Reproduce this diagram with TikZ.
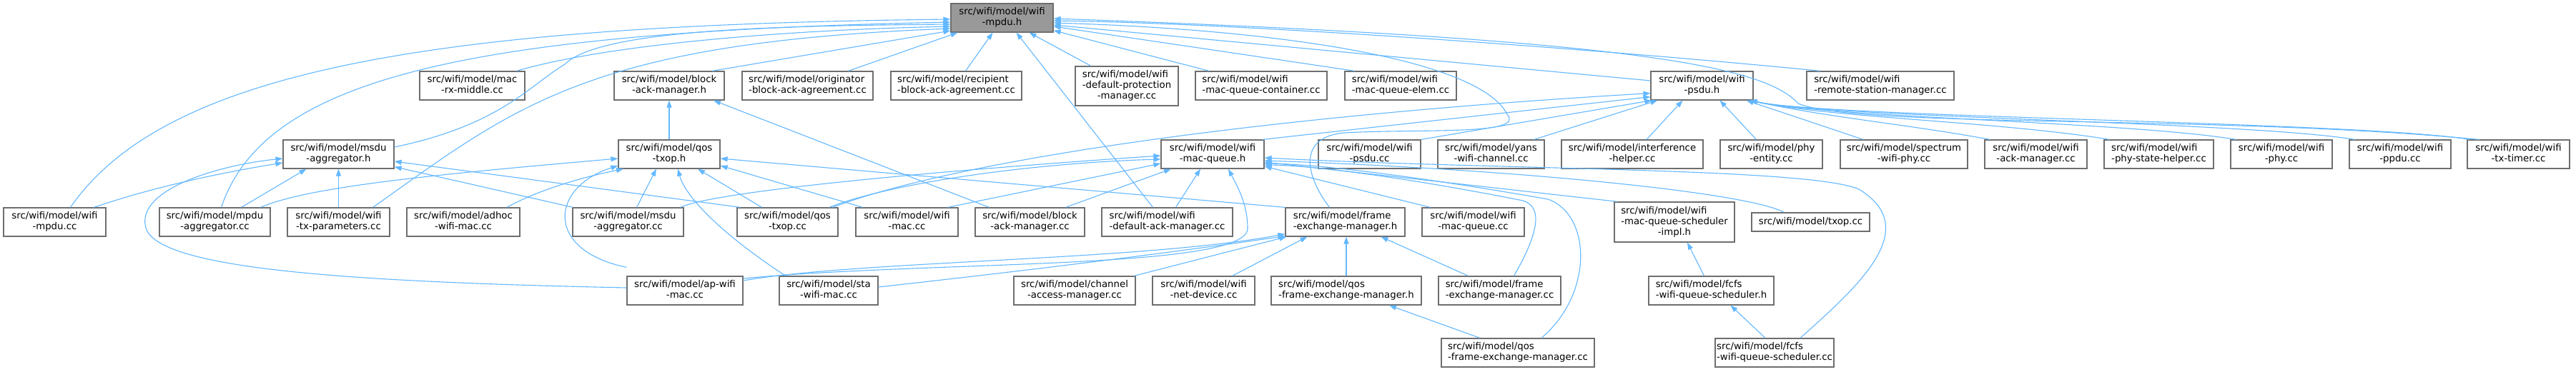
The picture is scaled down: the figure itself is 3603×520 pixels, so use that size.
\documentclass[tikz,border=0pt]{standalone}
\usepackage{fontspec}
\newfontfamily\djv{DejaVu Sans}
\usetikzlibrary{arrows.meta}
\definecolor{edgeblue}{HTML}{63B8FF}
\definecolor{boxline}{HTML}{6E6E6E}
\definecolor{rootfill}{HTML}{999999}
\newlength\lwa \newlength\lwb \newlength\lwc
\newcommand\twol[2]{\settowidth\lwa{#1}\settowidth\lwb{#2}\ifdim\lwb>\lwa\lwa=\lwb\fi
  \begin{tabular}{@{}l@{}}\makebox[\lwa][l]{#1}\\\makebox[\lwa][c]{#2}\end{tabular}}
\newcommand\threel[3]{\settowidth\lwa{#1}\settowidth\lwb{#2}\settowidth\lwc{#3}\ifdim\lwb>\lwa\lwa=\lwb\fi\ifdim\lwc>\lwa\lwa=\lwc\fi
  \begin{tabular}{@{}l@{}}\makebox[\lwa][l]{#1}\\\makebox[\lwa][l]{#2}\\\makebox[\lwa][c]{#3}\end{tabular}}
\tikzset{
  box/.style={draw=boxline, fill=white, line width=1.2pt, inner sep=0pt, minimum height=40pt,
    font=\djv\fontsize{13.3}{15}\selectfont},
  rootbox/.style={box, fill=rootfill},
  edge/.style={draw=edgeblue, line width=1.1pt, -{Triangle[length=10pt,width=7pt]}},
}
\begin{document}
\begin{tikzpicture}[x=1pt,y=-1pt]
\fill[white] (0,0) rectangle (3603,520);
\useasboundingbox (0,0) rectangle (3603,520);
% row 0
\node[rootbox, minimum width=143pt] (R) at (1401.5,25) {\twol{src/wifi/model/wifi}{-mpdu.h}};
% row 1
\node[box, minimum width=147pt] (macrx) at (660.5,120) {\twol{src/wifi/model/mac}{-rx-middle.cc}};
\node[box, minimum width=154pt] (bamh) at (936,120) {\twol{src/wifi/model/block}{-ack-manager.h}};
\node[box, minimum width=183pt] (orig) at (1129.5,120) {\twol{src/wifi/model/originator}{-block-ack-agreement.cc}};
\node[box, minimum width=183pt] (recip) at (1337.5,120) {\twol{src/wifi/model/recipient}{-block-ack-agreement.cc}};
\node[box, minimum width=144pt, minimum height=55pt] (defprot) at (1576,120.5) {\threel{src/wifi/model/wifi}{-default-protection}{-manager.cc}};
\node[box, minimum width=184pt] (mqcont) at (1764,120) {\twol{src/wifi/model/wifi}{-mac-queue-container.cc}};
\node[box, minimum width=156pt] (mqelem) at (1959,120) {\twol{src/wifi/model/wifi}{-mac-queue-elem.cc}};
\node[box, minimum width=143pt] (psduh) at (2380.5,120) {\twol{src/wifi/model/wifi}{-psdu.h}};
\node[box, minimum width=206pt] (rsm) at (2630,120) {\twol{src/wifi/model/wifi}{-remote-station-manager.cc}};
% row 2
\node[box, minimum width=155pt] (msduh) at (473.5,216) {\twol{src/wifi/model/msdu}{-aggregator.h}};
\node[box, minimum width=142pt] (qostxoph) at (936,216) {\twol{src/wifi/model/qos}{-txop.h}};
\node[box, minimum width=144pt] (mqh) at (1696,216) {\twol{src/wifi/model/wifi}{-mac-queue.h}};
\node[box, minimum width=143pt] (psducc) at (1915.5,216) {\twol{src/wifi/model/wifi}{-psdu.cc}};
\node[box, minimum width=149pt] (yans) at (2085.5,216) {\twol{src/wifi/model/yans}{-wifi-channel.cc}};
\node[box, minimum width=198pt] (interf) at (2283,216) {\twol{src/wifi/model/interference}{-helper.cc}};
\node[box, minimum width=143pt] (phyent) at (2477.5,216) {\twol{src/wifi/model/phy}{-entity.cc}};
\node[box, minimum width=178pt] (spectrum) at (2663,216) {\twol{src/wifi/model/spectrum}{-wifi-phy.cc}};
\node[box, minimum width=143pt] (ackmgr) at (2847.5,216) {\twol{src/wifi/model/wifi}{-ack-manager.cc}};
\node[box, minimum width=153pt] (physt) at (3019.5,216) {\twol{src/wifi/model/wifi}{-phy-state-helper.cc}};
\node[box, minimum width=142pt] (wifiphy) at (3191,216) {\twol{src/wifi/model/wifi}{-phy.cc}};
\node[box, minimum width=142pt] (ppdu) at (3357,216) {\twol{src/wifi/model/wifi}{-ppdu.cc}};
\node[box, minimum width=143pt] (txtimer) at (3522.5,216) {\twol{src/wifi/model/wifi}{-tx-timer.cc}};
% row 3
\node[box, minimum width=143pt] (mpducc) at (76.5,311) {\twol{src/wifi/model/wifi}{-mpdu.cc}};
\node[box, minimum width=155pt] (mpduagg) at (300.5,311) {\twol{src/wifi/model/mpdu}{-aggregator.cc}};
\node[box, minimum width=143pt] (txparams) at (473.5,311) {\twol{src/wifi/model/wifi}{-tx-parameters.cc}};
\node[box, minimum width=158pt] (adhoc) at (648,311) {\twol{src/wifi/model/adhoc}{-wifi-mac.cc}};
\node[box, minimum width=155pt] (msduagg) at (878.5,311) {\twol{src/wifi/model/msdu}{-aggregator.cc}};
\node[box, minimum width=141pt] (qostxopcc) at (1101.5,311) {\twol{src/wifi/model/qos}{-txop.cc}};
\node[box, minimum width=143pt] (wifimac) at (1268.5,311) {\twol{src/wifi/model/wifi}{-mac.cc}};
\node[box, minimum width=153pt] (bamcc) at (1440.5,311) {\twol{src/wifi/model/block}{-ack-manager.cc}};
\node[box, minimum width=183pt] (defack) at (1632.5,311) {\twol{src/wifi/model/wifi}{-default-ack-manager.cc}};
\node[box, minimum width=167pt] (femh) at (1881.5,311) {\twol{src/wifi/model/frame}{-exchange-manager.h}};
\node[box, minimum width=143pt] (mqcc) at (2060.5,311) {\twol{src/wifi/model/wifi}{-mac-queue.cc}};
\node[box, minimum width=168pt, minimum height=56pt] (mqsch) at (2342,311) {\threel{src/wifi/model/wifi}{-mac-queue-scheduler}{-impl.h}};
\node[box, minimum width=165pt, minimum height=26pt] (txopcc) at (2532.5,311) {src/wifi/model/txop.cc};
% row 4
\node[box, minimum width=162pt] (apmac) at (958,407) {\twol{src/wifi/model/ap-wifi}{-mac.cc}};
\node[box, minimum width=138pt] (stamac) at (1159,407) {\twol{src/wifi/model/sta}{-wifi-mac.cc}};
\node[box, minimum width=170pt] (cam) at (1503,407) {\twol{src/wifi/model/channel}{-access-manager.cc}};
\node[box, minimum width=143pt] (netdev) at (1683.5,407) {\twol{src/wifi/model/wifi}{-net-device.cc}};
\node[box, minimum width=210pt] (qosfemh) at (1883,407) {\twol{src/wifi/model/qos}{-frame-exchange-manager.h}};
\node[box, minimum width=171pt] (femcc) at (2097.5,407) {\twol{src/wifi/model/frame}{-exchange-manager.cc}};
\node[box, minimum width=175pt] (fcfsh) at (2393.5,407) {\twol{src/wifi/model/fcfs}{-wifi-queue-scheduler.h}};
% row 5
\node[box, minimum width=214pt] (qosfemcc) at (2123,494) {\twol{src/wifi/model/qos}{-frame-exchange-manager.cc}};
\node[box, minimum width=166pt] (fcfscc) at (2482,494) {\twol{src/wifi/model/fcfs}{-wifi-queue-scheduler.cc}};

% ---- edges into root, left side
\draw[edge] ([xshift=22]mpducc.north) .. controls (230,100) and (600,35) .. ([yshift=-2]R.west);
\draw[edge] ([xshift=9]mpduagg.north) .. controls (370,110) and (650,45) .. ([yshift=-6]R.west);
\draw[edge] ([yshift=10]msduh.east) .. controls (700,175) and (740,120) .. (790,90) .. controls (840,40) and (1100,36) .. ([yshift=-9]R.west);
\draw[edge] ([xshift=62]macrx.north) .. controls (850,62) and (1100,42) .. ([yshift=-12]R.west);
\draw[edge] ([xshift=48]txparams.north) .. controls (720,150) and (820,60) .. ([yshift=-15]R.west);
\draw[edge] ([xshift=60]bamh.north) -- ([yshift=-18]R.west);
% bottom
\draw[edge] ([xshift=57]orig.north) -- ([xshift=-62]R.south);
\draw[edge] ([xshift=13]recip.north) -- ([xshift=-13]R.south);
\draw[edge] ([xshift=-20]defack.north) -- ([xshift=20]R.south);
\draw[edge] ([xshift=-50]defprot.north) -- ([xshift=38]R.south);
\draw[edge] ([xshift=-73]mqcont.north) -- ([yshift=3]R.south east);
% right
\draw[edge] ([xshift=-64]mqelem.north) -- ([yshift=-12]R.east);
\draw[edge] ([yshift=7]psduh.west) -- ([yshift=-10]R.east);
\draw[edge] ([xshift=-84]rsm.north) .. controls (2250,70) and (1750,33) .. ([yshift=-4]R.east);
\draw[edge] ([xshift=-22]femh.north) .. controls (1825,245) and (1815,192) .. (1880,186) .. controls (1990,180) and (2135,190) .. (2108,160) .. controls (2070,85) and (1800,42) .. ([yshift=-7]R.east);
\draw[edge] ([xshift=-55]txtimer.north) .. controls (3100,160) and (2600,180) .. (2515,145) .. controls (2470,95) and (2300,55) .. ([yshift=-1]R.east);

% ---- block-ack-manager.h
\draw[edge] (qostxoph.north) -- (bamh.south);
\draw[edge] ([xshift=-57]bamcc.north) -- ([xshift=62]bamh.south);

% ---- msdu-aggregator.h
\draw[edge] ([xshift=55]mpducc.north) .. controls (220,260) and (320,240) .. ([yshift=-12]msduh.west);
\draw[edge] ([yshift=4]apmac.west) .. controls (500,395) and (230,378) .. (205,322) .. controls (185,268) and (300,232) .. ([yshift=-6]msduh.west);
\draw[edge] ([xshift=37]mpduagg.north) -- ([xshift=-45]msduh.south);
\draw[edge] (txparams.north) -- (msduh.south);
\draw[edge] ([xshift=-77]msduagg.north) -- ([yshift=3]msduh.south east);
\draw[edge] ([xshift=-66]qostxopcc.north) -- ([yshift=-10]msduh.east);

% ---- qos-txop.h
\draw[edge] ([xshift=64]mpduagg.north) .. controls (430,262) and (600,245) .. ([yshift=-6]qostxoph.west);
\draw[edge] ([yshift=12]apmac.north west) .. controls (760,350) and (770,262) .. ([yshift=-16]qostxoph.west);
\draw[edge] ([xshift=61]adhoc.north) .. controls (760,262) and (830,245) .. ([xshift=-64]qostxoph.south);
\draw[edge] ([xshift=12]msduagg.north) -- ([xshift=-18]qostxoph.south);
\draw[edge] ([xshift=-36]qostxopcc.north) -- ([xshift=40]qostxoph.south);
\draw[edge] ([xshift=-62]wifimac.north) -- ([yshift=-16]qostxoph.east);
\draw[edge] ([xshift=-60]stamac.north) .. controls (1020,335) and (960,280) .. ([xshift=12]qostxoph.south);
\draw[edge] (femh.north west) -- ([yshift=-6]qostxoph.east);

% ---- wifi-mac-queue.h
\draw[edge] ([xshift=-5]msduagg.north east) .. controls (1000,268) and (1300,240) .. ([yshift=-2]mqh.west);
\draw[edge] ([xshift=-13]qostxopcc.north east) .. controls (1250,255) and (1450,228) .. ([yshift=-7]mqh.west);
\draw[edge] ([xshift=-15]wifimac.north east) -- ([yshift=-13]mqh.west);
\draw[edge] ([xshift=50]bamcc.north) -- ([xshift=-58]mqh.south);
\draw[edge] ([xshift=12]defack.north) -- ([xshift=-17]mqh.south);
\draw[edge] ([yshift=17]apmac.east) .. controls (1300,365) and (1745,378) .. (1745,320) .. controls (1745,285) and (1730,260) .. ([xshift=22]mqh.south);
\draw[edge] ([xshift=-60]mqcc.north) -- ([yshift=-17]mqh.east);
\draw[edge] ([xshift=20]femcc.north) .. controls (2150,330) and (2160,290) .. (2130,281) .. controls (2000,255) and (1850,232) .. ([yshift=-15]mqh.east);
\draw[edge] ([xshift=33]qosfemcc.north) .. controls (2230,410) and (2225,300) .. (2165,279) .. controls (2000,250) and (1850,230) .. ([yshift=-13]mqh.east);
\draw[edge] ([xshift=5]mqsch.north west) -- ([yshift=-11]mqh.east);
\draw[edge] ([xshift=-37]txopcc.north) .. controls (2440,268) and (2100,236) .. ([yshift=-9]mqh.east);
\draw[edge] ([xshift=36]fcfscc.north) .. controls (2600,400) and (2690,320) .. (2600,265) .. controls (2530,235) and (2100,238) .. ([yshift=-5]mqh.east);

% ---- wifi-psdu.h
\draw[edge] ([xshift=-8]qostxopcc.north east) .. controls (1350,220) and (1800,160) .. ([yshift=10]psduh.south west);
\draw[edge] ([xshift=-3]mqh.north east) -- ([yshift=5]psduh.south west);
\draw[edge] (psducc.north east) -- ([xshift=2]psduh.south west);
\draw[edge] ([xshift=60]yans.north) -- ([xshift=10]psduh.south west);
\draw[edge] ([xshift=20]interf.north) -- ([xshift=-27]psduh.south);
\draw[edge] ([xshift=-21]phyent.north) -- ([xshift=25]psduh.south);
\draw[edge] ([xshift=-57]spectrum.north) -- ([xshift=-10]psduh.south east);
\draw[edge] ([xshift=8]ackmgr.north west) .. controls +(-120,-22) and (2560,165) .. ([xshift=-5]psduh.south east);
\draw[edge] ([xshift=8]physt.north west) .. controls +(-150,-25) and (2560,165) .. ([xshift=-5]psduh.south east);
\draw[edge] ([xshift=8]wifiphy.north west) .. controls +(-150,-25) and (2560,165) .. ([xshift=-5]psduh.south east);
\draw[edge] ([xshift=8]ppdu.north west) .. controls +(-150,-25) and (2560,165) .. ([xshift=-5]psduh.south east);
\draw[edge] ([xshift=4]txtimer.north west) .. controls +(-150,-25) and (2560,165) .. ([xshift=-5]psduh.south east);

% ---- frame-exchange-manager.h
\draw[edge] ([yshift=14]apmac.east) .. controls (1200,365) and (1600,365) .. ([yshift=4]femh.south west);
\draw[edge] ([yshift=5]stamac.east) .. controls (1500,372) and (1700,345) .. ([yshift=1]femh.south west);
\draw[edge] ([xshift=83]cam.north) -- ([xshift=2]femh.south west);
\draw[edge] ([xshift=40]netdev.north) -- ([xshift=31]femh.south west);
\draw[edge] (qosfemh.north) -- (qosfemh.north |- femh.south);
\draw[edge] ([xshift=-44]femcc.north) -- ([xshift=50]femh.south);

% ---- remaining
\draw[edge] ([xshift=-53]qosfemcc.north) -- ([xshift=60]qosfemh.south);
\draw[edge] ([xshift=-10]fcfsh.north) -- ([xshift=18]mqsch.south);
\draw[edge] ([xshift=-13]fcfscc.north) -- ([xshift=27]fcfsh.south);
\end{tikzpicture}
\end{document}
